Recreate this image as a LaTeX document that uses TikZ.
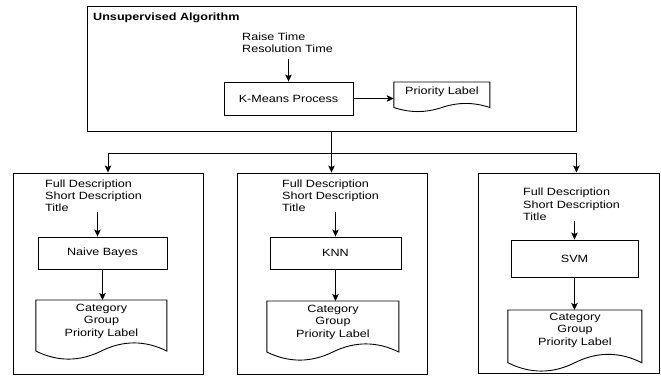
\documentclass[tikz,border=0pt]{standalone}
\usepackage{fontspec}
\setmainfont[FakeStretch=1.2]{Liberation Sans}
\usetikzlibrary{arrows.meta,calc}
\tikzset{
  every node/.style={font=\fontsize{10.5}{12.3}\selectfont, text=black},
  box/.style={draw, line width=0.9pt, inner sep=0pt, minimum width=#1},
  plain/.style={inner sep=0pt, align=left},
  doctext/.style={inner sep=0pt, align=center, anchor=north, minimum width=#1},
  docline/.style={draw, line width=0.9pt},
  conn/.style={line width=0.9pt},
  arr/.style={line width=0.9pt, -{Stealth[length=7pt,width=6.5pt,inset=1.5pt]}}
}
% document shape: name, width, height
\newcommand\docshape[3]{%
  \draw[docline, shift={(#1.north west)}] (0,0) -- (#2,0) -- (#2,{0.85*#3})
    .. controls ({0.8333*#2},{0.67*#3}) and ({0.6667*#2},{0.67*#3}) .. ({0.5*#2},{0.85*#3})
    .. controls ({0.3333*#2},{1.03*#3}) and ({0.1667*#2},{1.03*#3}) .. (0,{0.85*#3}) -- cycle;}
\begin{document}
\begin{tikzpicture}[x=1pt,y=-1pt]
\useasboundingbox (0,0) rectangle (661,376);
% top container
\node[box=489pt, minimum height=125pt] (top) at (331.5,68.5) {};
\node[plain, anchor=north west, font=\fontsize{10.5}{12.3}\selectfont\bfseries] (title) at (93,12.5) {Unsupervised Algorithm};
\node[plain, anchor=north west] (t0) at (242,32.5) {Raise Time\\Resolution Time};
\node[box=129pt, minimum height=33pt] (km) at (288.5,98.5) {K-Means Process};
\node[doctext=96pt, minimum height=20pt] (pl) at (442,82) {Priority Label};
\docshape{pl}{96}{30}
\draw[arr, shorten <=6pt] (t0.south -| km.north) -- (km.north);
\draw[arr] (km.east) -- (km.east -| pl.west);
% lower containers
\node[box=190pt, minimum height=201pt] (b1) at (108,273.5) {};
\node[box=190pt, minimum height=201pt] (b2) at (332,273.5) {};
\node[box=181.5pt, minimum height=200pt] (b3) at (568.75,273) {};
% junction
\coordinate (j) at ($(top.south)+(0,22)$);
\coordinate (j3) at (j -| top.south east);
\draw[conn] (top.south) -- (j);
\draw[arr] (j) -| (b1.north);
\draw[arr] (j) -- (j |- b2.north);
\draw[arr] (j) -- (j3) -- (j3 |- b3.north);
% column 1
\node[plain, anchor=north west] (t1) at (45,179.5) {Full Description\\Short Description\\Title};
\node[box=129pt, minimum height=32pt] (m1) at (102.5,253) {Naive Bayes};
\node[doctext=131pt, minimum height=42pt] (d1) at (101.5,300) {Category\\Group\\Priority Label};
\docshape{d1}{131}{60}
\draw[arr] ([xshift=-5pt]m1.north |- t1.south) -- ([xshift=-5pt]m1.north);
\draw[arr] (m1.south) -- (m1.south |- d1.north);
% column 2
\node[plain, anchor=north west] (t2) at (282,179.5) {Full Description\\Short Description\\Title};
\node[box=131pt, minimum height=32pt] (m2) at (335.5,253) {KNN};
\node[doctext=132pt, minimum height=42pt] (d2) at (333,301) {Category\\Group\\Priority Label};
\docshape{d2}{132}{60}
\draw[arr] (m2.north |- t2.south) -- (m2.north);
\draw[arr] (m2.south) -- (m2.south |- d2.north);
% column 3
\node[plain, anchor=north west] (t3) at (523,188) {Full Description\\Short Description\\Title};
\node[box=127pt, minimum height=37pt] (m3) at (574.5,258.5) {SVM};
\node[doctext=134pt, minimum height=40pt] (d3) at (575,310) {Category\\Group\\Priority Label};
\docshape{d3}{134}{62}
\draw[arr] (m3.north |- t3.south) -- (m3.north);
\draw[arr] (m3.south) -- (m3.south |- d3.north);
\end{tikzpicture}
\end{document}
